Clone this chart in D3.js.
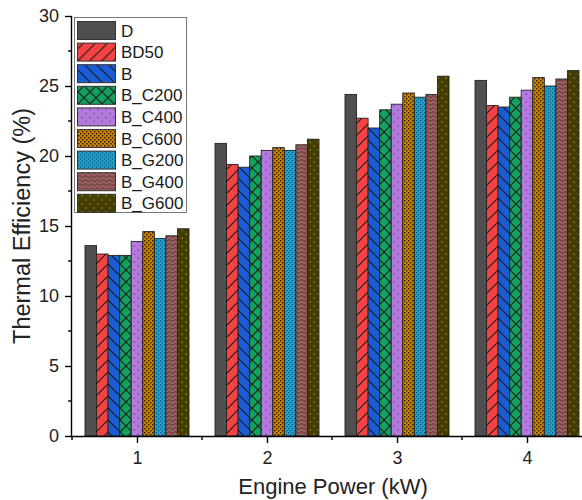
<!DOCTYPE html>
<html>
<head>
<meta charset="utf-8">
<script src="https://cdn.jsdelivr.net/npm/d3@7"></script>
<style>
  html, body { margin: 0; padding: 0; background: #fff; }
  svg { display: block; font-family: "Liberation Sans", Arial, sans-serif; }
</style>
</head>
<body>
<svg id="chart" width="582" height="500"></svg>
<script>
// Engine power levels (kW) on the x axis
const powers = [1, 2, 3, 4];
// Fuel blends, in legend order
const fuels = ["D", "BD50", "B", "B_C200", "B_C400", "B_C600", "B_G200", "B_G400", "B_G600"];
// Thermal efficiency (%) per fuel at 1, 2, 3, 4 kW
const effD      = [13.6, 20.9, 24.4, 25.4];
const effBD50   = [13.0, 19.4, 22.7, 23.6];
const effB      = [12.9, 19.2, 22.0, 23.5];
const effBC200  = [12.9, 20.0, 23.3, 24.2];
const effBC400  = [13.9, 20.4, 23.7, 24.7];
const effBC600  = [14.6, 20.6, 24.5, 25.6];
const effBG200  = [14.1, 20.4, 24.2, 25.0];
const effBG400  = [14.3, 20.8, 24.4, 25.5];
const effBG600  = [14.8, 21.2, 25.7, 26.1];
const yTicks = [0, 5, 10, 15, 20, 25, 30];

const seriesValues = [effD, effBD50, effB, effBC200, effBC400, effBC600, effBG200, effBG400, effBG600];

const svg = d3.select("#chart");
const plotLeft = 72, plotBottom = 436, plotTop = 16;

const x = d3.scaleLinear().domain([0.5, 4.5]).range([plotLeft, 592]);
const y = d3.scaleLinear().domain([0, 30]).range([plotBottom, plotTop]);

const groupWidth = 0.8;
const barW = groupWidth / fuels.length;

// ---- fill patterns ----
const defs = svg.append("defs");
const patternIds = ["pD", "pBD50", "pB", "pC200", "pC400", "pC600", "pG200", "pG400", "pG600"];

function pattern(id, w, h, base) {
  const p = defs.append("pattern").attr("id", id)
    .attr("patternUnits", "userSpaceOnUse").attr("width", w).attr("height", h);
  p.append("rect").attr("width", w).attr("height", h).attr("fill", base);
  return p;
}
pattern("pD", 10, 10, "#4f4f4f");
{
  const p = pattern("pBD50", 12, 12, "#f54343");
  p.append("path").attr("d", "M0,12 L12,0 M-3,3 L3,-3 M9,15 L15,9").attr("stroke", "#1a1a1a").attr("stroke-width", 1.1);
}
{
  const p = pattern("pB", 12, 12, "#1a5bd6");
  p.append("path").attr("d", "M0,0 L12,12 M-3,9 L3,15 M9,-3 L15,3").attr("stroke", "#1a1a1a").attr("stroke-width", 1.1);
}
{
  const p = pattern("pC200", 12, 12, "#14a05e");
  p.append("path").attr("d", "M0,0 L12,12 M0,12 L12,0").attr("stroke", "#1a1a1a").attr("stroke-width", 1.1);
}
{
  const p = pattern("pC400", 8, 8, "#b47ade");
  p.append("rect").attr("x", 1.5).attr("y", 1.5).attr("width", 1.2).attr("height", 1.2).attr("fill", "#5b3370");
  p.append("rect").attr("x", 5.5).attr("y", 5.5).attr("width", 1.2).attr("height", 1.2).attr("fill", "#5b3370");
}
{
  const p = pattern("pC600", 4, 4, "#c98300");
  p.append("rect").attr("x", 0).attr("y", 0).attr("width", 1.4).attr("height", 1.4).attr("fill", "#2a1800");
  p.append("rect").attr("x", 2).attr("y", 2).attr("width", 1.4).attr("height", 1.4).attr("fill", "#2a1800");
}
{
  const p = pattern("pG200", 4, 4, "#1ca3d2");
  p.append("rect").attr("x", 0).attr("y", 0).attr("width", 1.2).attr("height", 1.2).attr("fill", "#0b4a66");
  p.append("rect").attr("x", 2).attr("y", 2).attr("width", 1.2).attr("height", 1.2).attr("fill", "#0b4a66");
}
{
  const p = pattern("pG400", 6, 4, "#7e4848");
  p.append("path").attr("d", "M0,2.5 Q1.5,0.5 3,2.5 T6,2.5").attr("fill", "none").attr("stroke", "#b98686").attr("stroke-width", 0.9);
}
{
  const p = pattern("pG600", 8, 8, "#433d02");
  p.append("rect").attr("x", 1.5).attr("y", 1.5).attr("width", 1.3).attr("height", 1.3).attr("fill", "#a59a2a");
  p.append("rect").attr("x", 5.5).attr("y", 5.5).attr("width", 1.3).attr("height", 1.3).attr("fill", "#a59a2a");
}

// ---- bars ----
const bars = [];
fuels.forEach((f, i) => {
  powers.forEach((p, j) => {
    bars.push({ fuel: f, i, power: p, value: seriesValues[i][j] });
  });
});

svg.append("g").selectAll("rect").data(bars).join("rect")
  .attr("x", d => x(d.power - groupWidth / 2 + d.i * barW))
  .attr("width", d => x(barW) - x(0))
  .attr("y", d => y(d.value))
  .attr("height", d => y(0) - y(d.value))
  .attr("fill", d => `url(#${patternIds[d.i]})`)
  .attr("stroke", "#222")
  .attr("stroke-width", 0.9);

// ---- axes ----
const xAxis = d3.axisBottom(x).tickValues(powers).tickSize(7).tickPadding(8).tickFormat(d3.format("d"));
const gx = svg.append("g").attr("transform", `translate(0,${plotBottom})`).call(xAxis);
gx.select(".domain").attr("d", `M${plotLeft},0.5H582`).attr("stroke", "#000").attr("stroke-width", 1.4);
gx.selectAll(".tick line").attr("stroke", "#000").attr("stroke-width", 1.4);
gx.selectAll(".tick text").attr("font-size", 18).attr("fill", "#222").attr("font-family", "Liberation Sans, Arial, sans-serif");
// minor x ticks at half steps
svg.append("g").selectAll("line").data([0.5, 1.5, 2.5, 3.5]).join("line")
  .attr("x1", d => x(d)).attr("x2", d => x(d))
  .attr("y1", plotBottom).attr("y2", plotBottom + 4)
  .attr("stroke", "#000").attr("stroke-width", 1.4);

const yAxis = d3.axisLeft(y).tickValues(yTicks).tickSize(7).tickPadding(6);
const gy = svg.append("g").attr("transform", `translate(${plotLeft},0)`).call(yAxis);
gy.select(".domain").attr("d", `M-0.5,${plotBottom}V${plotTop}`).attr("stroke", "#000").attr("stroke-width", 1.4);
gy.selectAll(".tick line").attr("stroke", "#000").attr("stroke-width", 1.4);
gy.selectAll(".tick text").attr("font-size", 18).attr("fill", "#222").attr("font-family", "Liberation Sans, Arial, sans-serif");
// minor y ticks at half steps
svg.append("g").selectAll("line").data([2.5, 7.5, 12.5, 17.5, 22.5, 27.5]).join("line")
  .attr("x1", plotLeft - 4).attr("x2", plotLeft)
  .attr("y1", d => y(d)).attr("y2", d => y(d))
  .attr("stroke", "#000").attr("stroke-width", 1.4);

// ---- axis titles ----
svg.append("text")
  .attr("x", 333).attr("y", 494)
  .attr("text-anchor", "middle").attr("font-size", 22).attr("fill", "#222")
  .text("Engine Power (kW)");
svg.append("text")
  .attr("transform", `translate(30,${(plotTop + plotBottom) / 2}) rotate(-90)`)
  .attr("text-anchor", "middle").attr("font-size", 23.5).attr("fill", "#222")
  .text("Thermal Efficiency (%)");

// ---- legend ----
const lg = svg.append("g");
lg.append("rect").attr("x", 74.5).attr("y", 17.5).attr("width", 112).attr("height", 195)
  .attr("fill", "#fff").attr("stroke", "#777").attr("stroke-width", 1);
const rowH = 21.6;
const rows = lg.selectAll("g.row").data(fuels).join("g").attr("class", "row")
  .attr("transform", (d, i) => `translate(0,${21 + i * rowH})`);
rows.append("rect").attr("x", 77.5).attr("y", 0.5).attr("width", 38).attr("height", 18)
  .attr("fill", (d, i) => `url(#${patternIds[i]})`).attr("stroke", "#333").attr("stroke-width", 1);
rows.append("text").attr("x", 121).attr("y", 15.5)
  .attr("font-size", 17).attr("fill", "#1a1a1a").text(d => d);
</script>
</body>
</html>
